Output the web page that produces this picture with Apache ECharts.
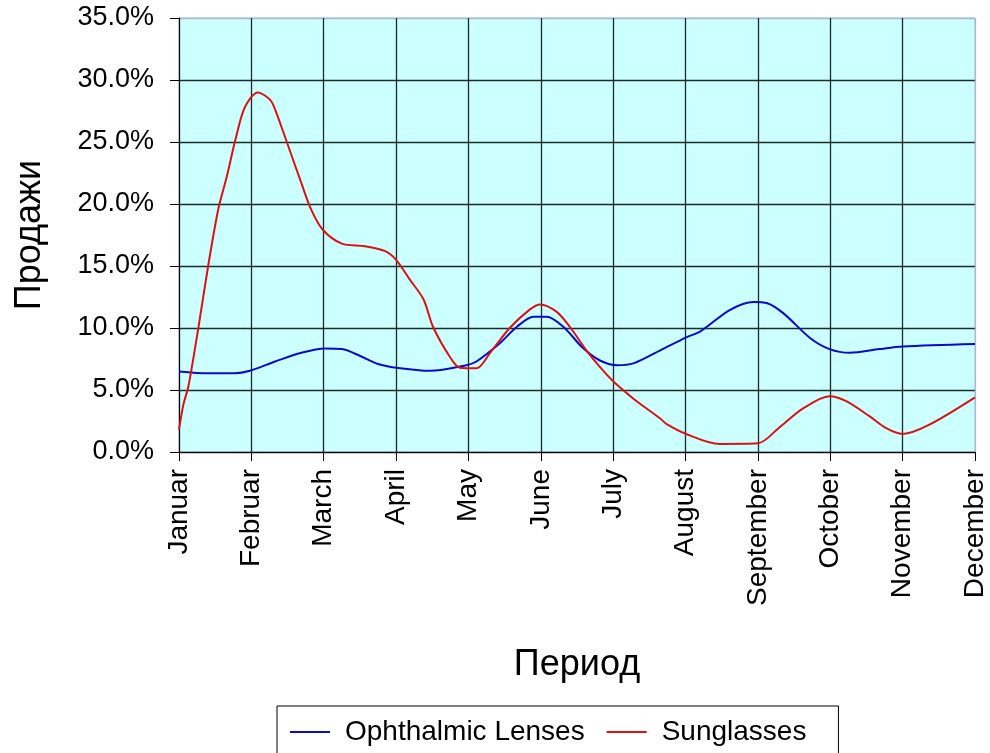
<!DOCTYPE html>
<html>
<head>
<meta charset="utf-8">
<script src="https://cdn.jsdelivr.net/npm/echarts@6/dist/echarts.min.js"></script>
<style>html,body{margin:0;padding:0;background:#fff}#c{width:990px;height:753px}</style>
</head>
<body>
<div id="c"></div>
<script>
// Month labels (category positions 0..11)
const months = ['Januar','Februar','March','April','May','June','July','August','September','October','November','December'];
const yTicks = [0,5,10,15,20,25,30,35];

// Ophthalmic Lenses: position (in months from January) and value (%)
const lensesX = [0,0.40,0.77,0.98,1.33,1.69,2.02,2.25,2.52,2.75,3.0,3.47,3.97,4.11,4.43,4.67,4.90,5.08,5.31,5.58,5.81,6.05,6.28,6.65,7.01,7.20,7.61,7.94,8.13,8.35,8.72,8.99,9.27,9.68,10.0,11.0];
const lensesY = [6.5,6.35,6.35,6.55,7.3,8.0,8.35,8.3,7.7,7.1,6.8,6.55,7.0,7.3,8.75,10.1,10.9,10.9,10.1,8.4,7.4,7.0,7.15,8.2,9.25,9.7,11.45,12.1,12.0,11.2,9.2,8.3,8.0,8.3,8.5,8.7];

// Sunglasses
const sunX = [0,0.06,0.13,0.27,0.40,0.54,0.66,0.78,0.91,1.09,1.26,1.33,1.49,1.69,1.83,1.99,2.25,2.57,2.85,3.0,3.19,3.38,3.51,3.74,3.88,4.11,4.30,4.57,4.85,4.99,5.22,5.40,5.63,5.81,6.0,6.28,6.65,6.74,7.01,7.47,8.0,8.30,8.62,8.99,9.22,9.55,9.78,10.0,10.37,11.0];
const sunY = [1.8,3.8,5.3,10.1,14.9,19.5,22.2,25.2,27.8,29.0,28.4,27.6,25.0,21.7,19.5,17.9,16.8,16.6,16.2,15.5,13.9,12.3,10.1,7.7,6.8,6.75,8.0,10.0,11.5,11.9,11.3,10.1,8.2,6.9,5.7,4.3,2.7,2.25,1.45,0.65,0.7,2.0,3.5,4.5,4.1,2.85,1.9,1.45,2.2,4.4];

const FONT = 'Liberation Sans, Arial, sans-serif';
const pair = (xs, ys) => xs.map((x, i) => [x, ys[i]]);

const xSplitColors = months.map((m, i) => i === months.length - 1 ? '#a8b8d8' : '#1e2a2a');
const ySplitColors = yTicks.map((t, i) => i === yTicks.length - 1 ? '#a8b8d8' : '#1e2a2a');

const chart = echarts.init(document.getElementById('c'), null, {renderer: 'canvas'});
chart.setOption({
  backgroundColor: '#ffffff',
  animation: false,
  grid: {
    left: 179, top: 18, right: 15, bottom: 301,
    containLabel: false, outerBoundsMode: 'none',
    show: true, backgroundColor: '#ccffff', borderColor: '#a8b8d8', borderWidth: 1
  },
  legend: {
    left: 277, top: 706,
    data: ['Ophthalmic Lenses', 'Sunglasses'],
    icon: 'rect', itemWidth: 40, itemHeight: 2, itemGap: 22,
    borderColor: '#000', borderWidth: 1,
    padding: [12, 32, 22, 13],
    textStyle: {fontFamily: FONT, fontSize: 28, color: '#000', padding: [0, 0, 0, 10]}
  },
  xAxis: {
    type: 'value', min: 0, max: 11, interval: 1,
    name: 'Период', nameLocation: 'middle', nameGap: 195, nameMoveOverlap: false,
    nameTextStyle: {fontFamily: FONT, fontSize: 36, color: '#000'},
    axisLine: {show: true, onZero: false, lineStyle: {color: '#000', width: 1}},
    axisTick: {show: true, length: 9, lineStyle: {color: '#000'}},
    axisLabel: {
      rotate: 90, margin: 17, fontFamily: FONT, fontSize: 28, color: '#000',
      formatter: v => months[Math.round(v)] || ''
    },
    splitLine: {show: true, lineStyle: {color: xSplitColors, width: 1.3}}
  },
  yAxis: {
    type: 'value', min: 0, max: 35, interval: 5,
    name: 'Продажи', nameLocation: 'middle', nameGap: 131, nameRotate: 90, nameMoveOverlap: false,
    nameTextStyle: {fontFamily: FONT, fontSize: 36, color: '#000'},
    axisLine: {show: true, lineStyle: {color: '#000', width: 1}},
    axisTick: {show: true, length: 9, lineStyle: {color: '#000'}},
    axisLabel: {
      margin: 25, fontFamily: FONT, fontSize: 27, color: '#000',
      formatter: v => v.toFixed(1) + '%'
    },
    splitLine: {show: true, lineStyle: {color: ySplitColors, width: 1.3}}
  },
  series: [
    {
      name: 'Ophthalmic Lenses', type: 'line', smooth: 0.3, showSymbol: false,
      data: pair(lensesX, lensesY),
      lineStyle: {color: '#0a0acc', width: 2}, itemStyle: {color: '#0a0acc'}
    },
    {
      name: 'Sunglasses', type: 'line', smooth: 0.3, showSymbol: false,
      data: pair(sunX, sunY),
      lineStyle: {color: '#dd1111', width: 2}, itemStyle: {color: '#dd1111'}
    }
  ]
});
</script>
</body>
</html>
